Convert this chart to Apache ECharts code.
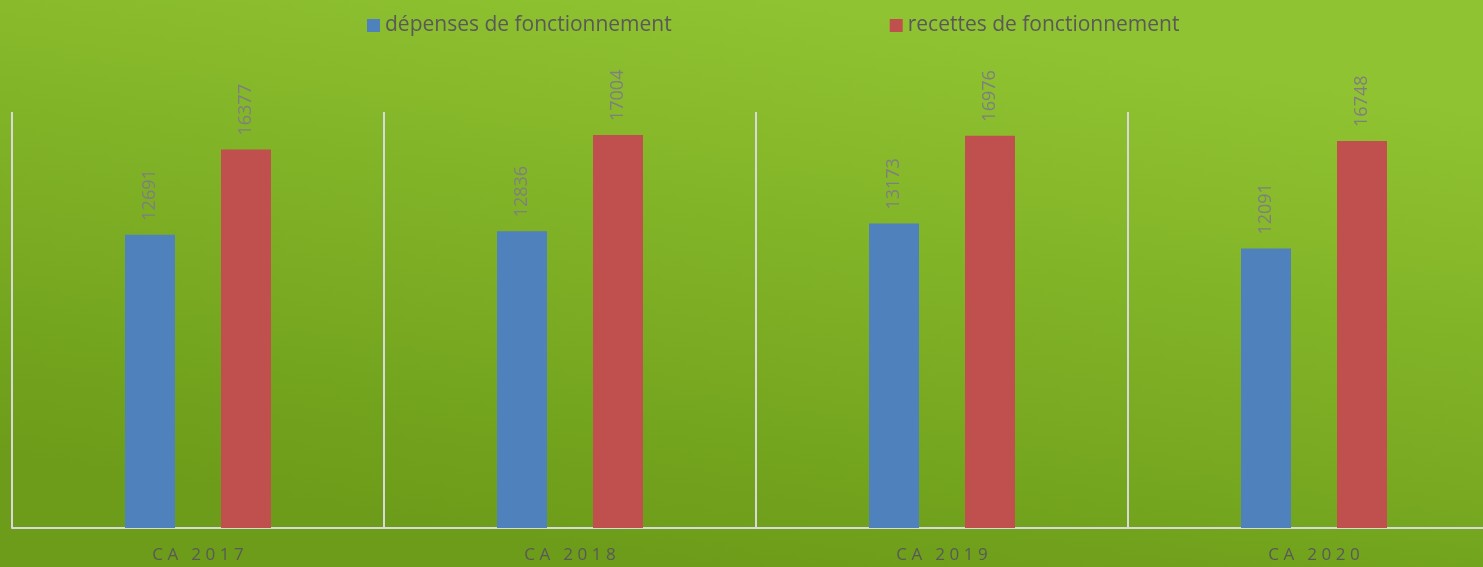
<!DOCTYPE html>
<html>
<head>
<meta charset="utf-8">
<script src="https://cdn.jsdelivr.net/npm/echarts@6/dist/echarts.min.js"></script>
<style>
  html, body { margin: 0; padding: 0; overflow: hidden; }
  /* chart is a little wider than the window: the right edge of the plot is cut off, as in the picture */
  #main { width: 1500px; height: 567px; }
</style>
</head>
<body>
<div id="main"></div>
<script>
  // data
  var categories = ['CA 2017', 'CA 2018', 'CA 2019', 'CA 2020'];
  var depenses = [12691, 12836, 13173, 12091];
  var recettes = [16377, 17004, 16976, 16748];
  var seriesNames = ['dépenses de fonctionnement', 'recettes de fonctionnement'];

  var myChart = echarts.init(document.getElementById('main'));

  var labelStyle = {
    show: true,
    position: 'top',
    rotate: 90,
    align: 'left',
    verticalAlign: 'middle',
    distance: 14,
    color: '#7f7f7f',
    fontSize: 18,
    fontFamily: 'Open Sans'
  };

  // spaced-out category text
  var sep = '\u2009\u200a';
  function spaced(v) {
    return v.split(' ').map(function (w) { return w.split('').join(sep); }).join('\u2002' + sep);
  }

  var option = {
    backgroundColor: {
      type: 'linear', x: 0.47, y: 1, x2: 0.53, y2: 0,
      colorStops: [
        { offset: 0, color: '#6c9c19' },
        { offset: 1, color: '#90c331' }
      ]
    },
    legend: {
      data: seriesNames,
      left: 362,
      top: 10,
      itemWidth: 13,
      itemHeight: 13,
      itemGap: 218,
      icon: 'rect',
      textStyle: { color: '#595959', fontSize: 21, fontFamily: 'Open Sans' }
    },
    grid: { left: 12, right: 0, top: 112, bottom: 39 },
    xAxis: {
      type: 'category',
      data: categories,
      axisLine: { lineStyle: { color: '#d9d9d9', width: 2 } },
      axisTick: { show: false },
      splitLine: { show: true, lineStyle: { color: '#d9d9d9', width: 2 } },
      axisLabel: {
        color: '#595959',
        fontSize: 17,
        fontFamily: 'Open Sans',
        margin: 19,
        formatter: spaced
      }
    },
    yAxis: { type: 'value', min: 0, max: 18000, show: false, splitLine: { show: false } },
    series: [
      {
        name: seriesNames[0],
        type: 'bar',
        data: depenses,
        barWidth: 50,
        barGap: '92%',
        itemStyle: { color: '#4f81bd' },
        label: labelStyle
      },
      {
        name: seriesNames[1],
        type: 'bar',
        data: recettes,
        barWidth: 50,
        itemStyle: { color: '#c0504d' },
        label: labelStyle
      }
    ]
  };

  myChart.setOption(option);
</script>
</body>
</html>
